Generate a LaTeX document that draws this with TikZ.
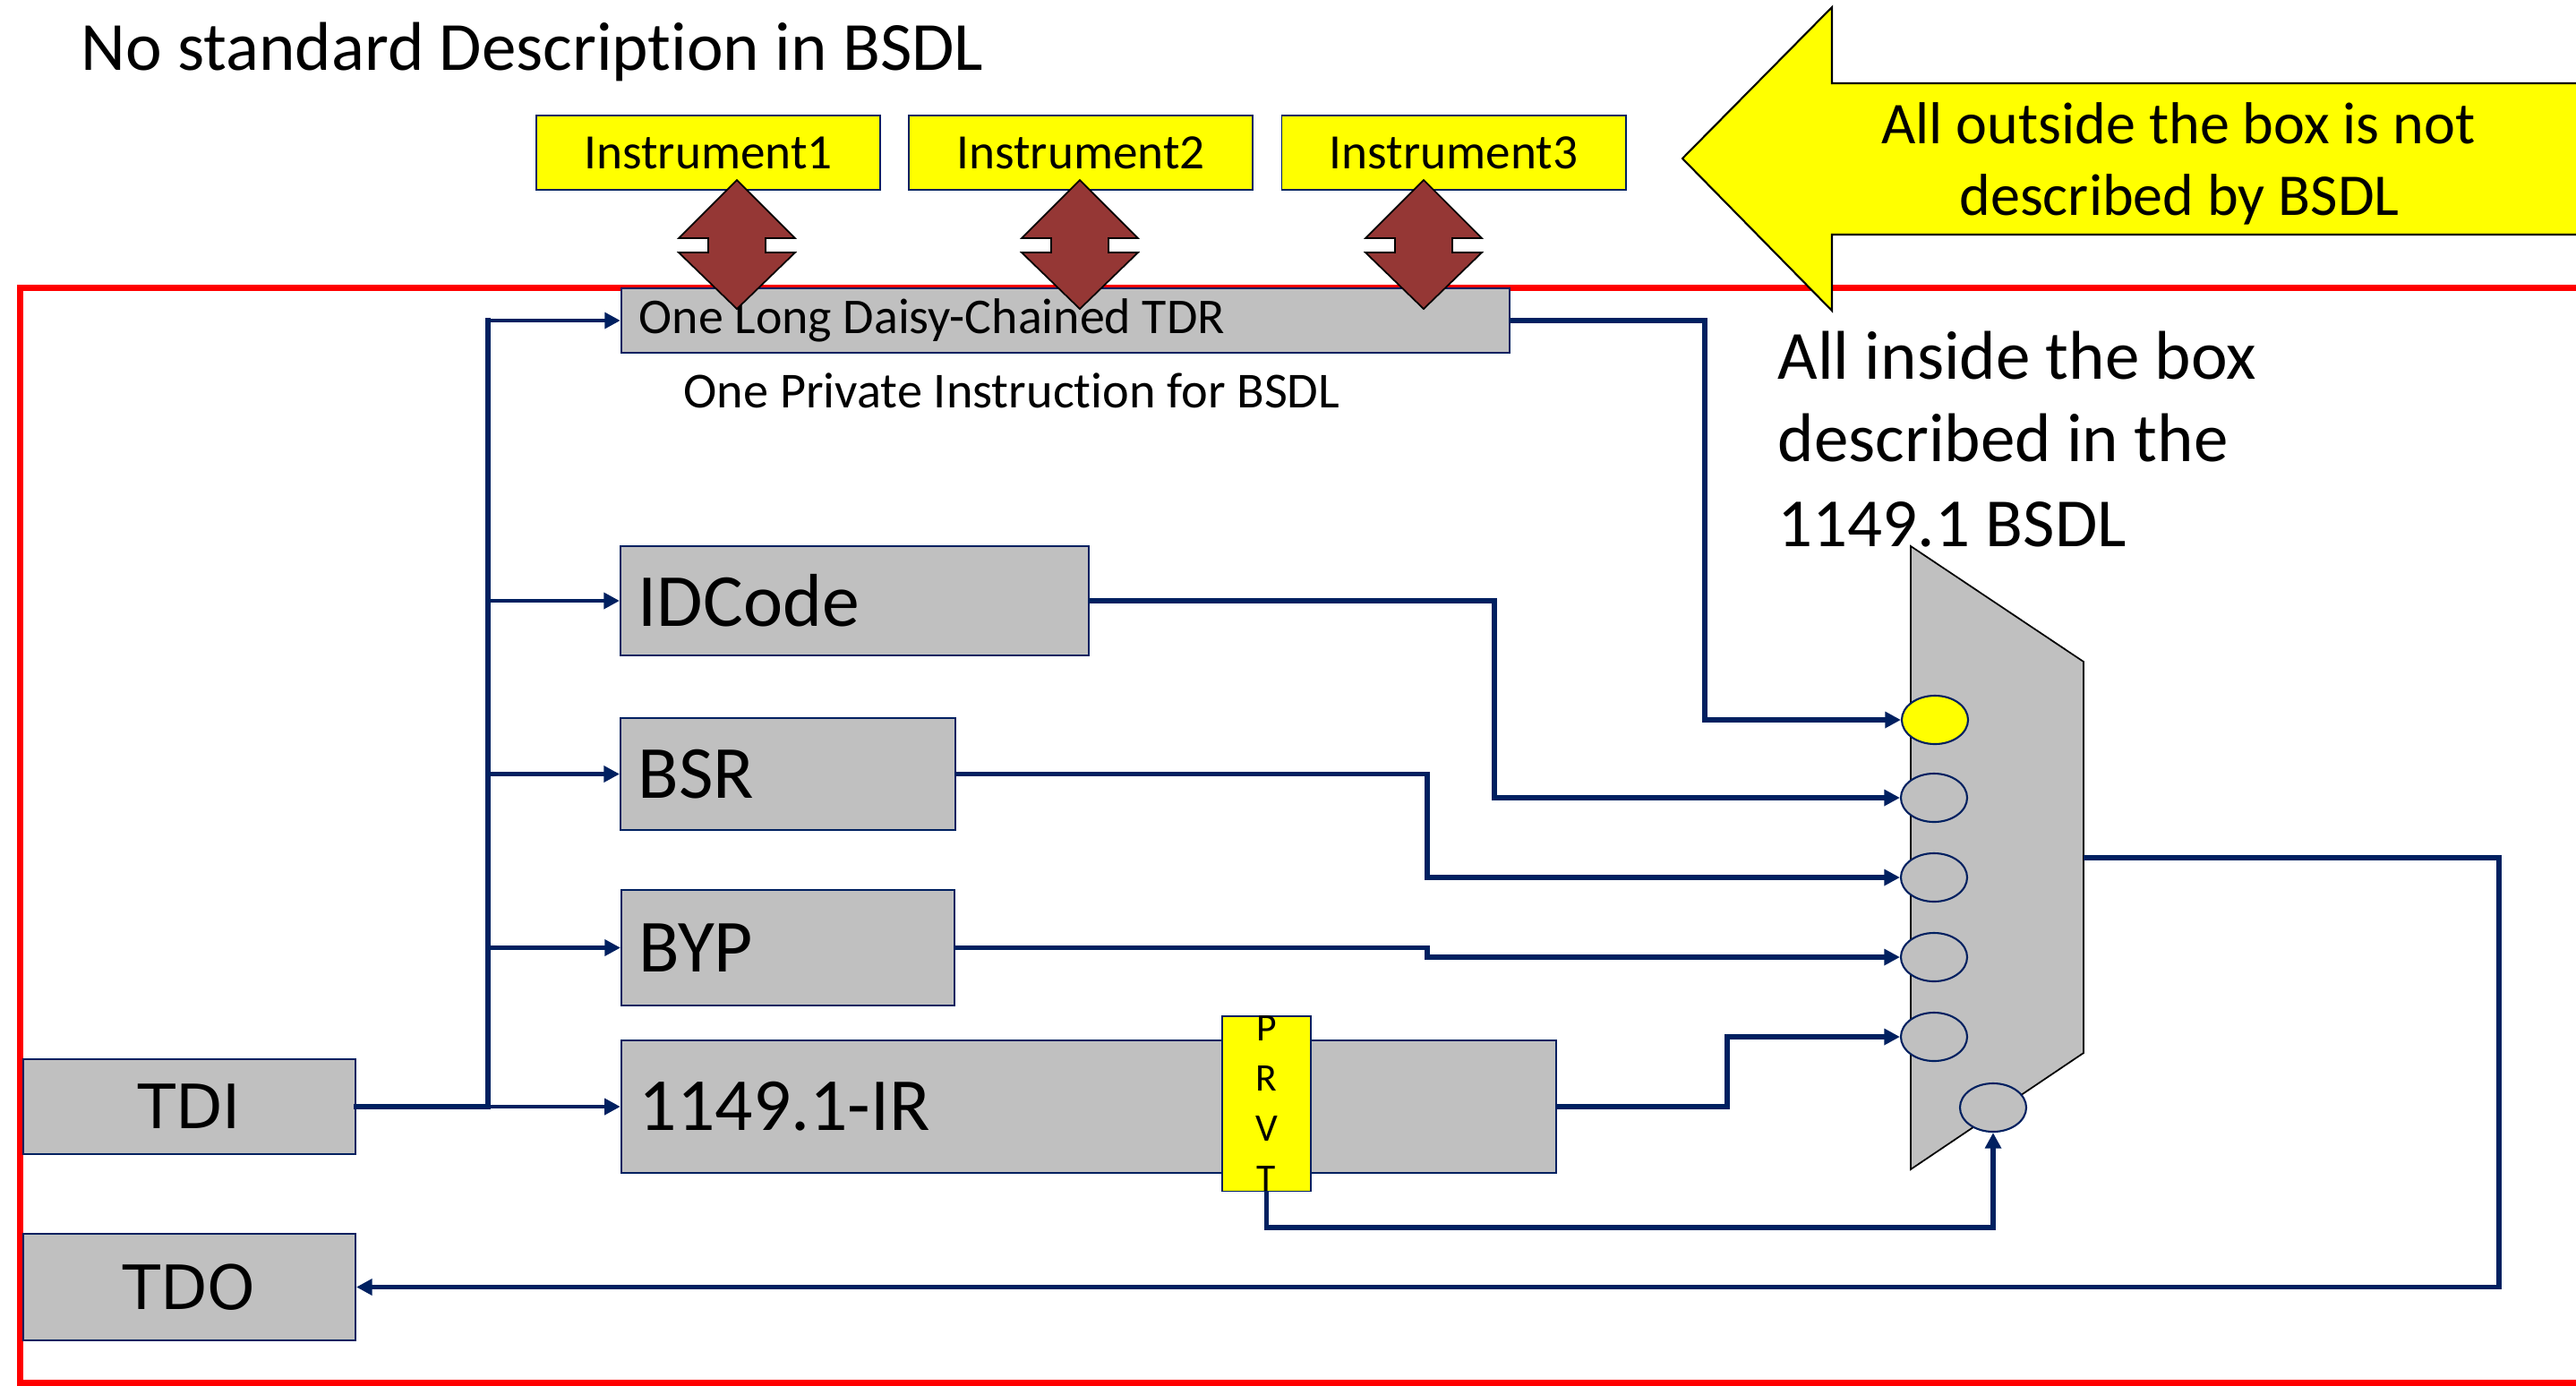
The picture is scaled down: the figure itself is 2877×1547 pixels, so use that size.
\documentclass[tikz,border=0pt]{standalone}
\usepackage{fontspec}
\setmainfont{Carlito}[Ligatures={NoCommon}]
\newfontfamily\verafont{DejaVu Sans}
\usetikzlibrary{arrows.meta,shapes.geometric}
\definecolor{navy}{HTML}{002060}
\definecolor{boxgray}{HTML}{C0C0C0}
\definecolor{brick}{HTML}{953735}
\definecolor{signyellow}{HTML}{FFFF00}
\definecolor{frame}{HTML}{FF0000}

\begin{document}
\begin{tikzpicture}[x=0.01cm, y=-0.01cm,
  wire/.style={draw=navy, line width=1.6pt},
  feed/.style={draw=navy, line width=1.35pt},
  busline/.style={draw=navy, line width=1.8pt, line cap=rect},
  tip/.style={-{Triangle[length=5pt,width=5pt]}},
  regbox/.style={draw=navy, line width=0.5pt, fill=boxgray, inner xsep=0.2cm,
    inner ysep=0pt, align=flush left, font=\fontsize{23.8}{28}\selectfont},
  pinbox/.style={draw=navy, line width=0.5pt, fill=boxgray, inner sep=0pt,
    font=\verafont\fontsize{19.4}{23}\selectfont},
  instr/.style={draw=navy, line width=0.5pt, fill=signyellow, inner sep=0pt,
    minimum width=3.84cm, minimum height=0.83cm, font=\fontsize{15.7}{19}\selectfont},
  port/.style={ellipse, draw=navy, line width=0.6pt, fill=boxgray,
    minimum width=0.74cm, minimum height=0.54cm, inner sep=0pt},
  plain/.style={inner sep=0pt},
]
\useasboundingbox (0,0) rectangle (2877,1547);
\clip (0,0) rectangle (2877,1547);

% red boundary of the BSDL-described part (open to the right)
\draw[frame, line width=2pt] (2950,321.5) -- (22.5,321.5) -- (22.5,1544) -- (2950,1544);

% big pointer arrow
\draw[fill=signyellow, draw=black, line width=0.6pt]
  (1879,177) -- (2046,8) -- (2046,93) -- (2950,93) -- (2950,262) -- (2046,262) -- (2046,347) -- cycle;
\node[plain, anchor=base, font=\fontsize{18.8}{22}\selectfont] (out1) at (2433,160) {All outside the box is not};
\node[plain, anchor=base, font=\fontsize{18.8}{22}\selectfont] (out2) at (2434,240) {described by BSDL};

% instruments
\node[instr] (ins1) at (791,170.5) {Instrument1};
\node[instr] (ins2) at (1207,170.5) {Instrument2};
\node[instr] (ins3) at (1623.5,170.5) {Instrument3};

% registers
\node[regbox, text width=9.52cm, minimum height=0.72cm, font=\fontsize{15.9}{19}\selectfont] (tdr) at (1190,358) {One Long Daisy-Chained TDR};
\node[regbox, text width=4.83cm, minimum height=1.22cm] (idcode) at (954.5,671) {IDCode};
\node[regbox, text width=3.34cm, minimum height=1.25cm] (bsr) at (880,864.5) {BSR};
\node[regbox, text width=3.32cm, minimum height=1.29cm] (byp) at (880,1058.5) {BYP};
\node[regbox, text width=10.04cm, minimum height=1.48cm] (ir) at (1216,1236) {1149.1-IR};
\node[draw=navy, line width=0.5pt, fill=signyellow, minimum width=0.99cm, minimum height=1.95cm,
  inner sep=0pt, align=center, font=\fontsize{12.4}{15.9}\selectfont] (prvt) at (1414.5,1232.5) {P\\R\\V\\T};

\node[plain, anchor=base west, font=\fontsize{16}{19}\selectfont] (priv) at (763,455) {One Private Instruction for BSDL};

% double arrows between instruments and the TDR
\foreach \cx in {823,1206,1590} {
  \draw[fill=brick, draw=black, line width=0.5pt]
    (\cx,201) -- (\cx+65,266) -- (\cx+32,266) -- (\cx+32,282) -- (\cx+65,282) -- (\cx,345)
    -- (\cx-65,282) -- (\cx-32,282) -- (\cx-32,266) -- (\cx-65,266) -- cycle;
}

% pins
\node[pinbox, minimum width=3.71cm, minimum height=1.06cm] (tdi) at (211.5,1236) {TDI};
\node[pinbox, minimum width=3.71cm, minimum height=1.19cm] (tdo) at (211.5,1437.5) {TDO};

% multiplexer
\draw[fill=boxgray, draw=black, line width=0.5pt] (2134,610) -- (2327,739) -- (2327,1176) -- (2134,1306) -- cycle;
\coordinate (muxout) at (2327,958);
\node[port, fill=signyellow] (e1) at (2161,804) {};
\node[port] (e2) at (2160,891) {};
\node[port] (e3) at (2160,980) {};
\node[port] (e4) at (2160,1069) {};
\node[port] (e5) at (2160,1158) {};
\node[port] (e6) at (2226,1237) {};

% routing columns and rows
\coordinate (bus) at (545,0);
\coordinate (k1) at (1904,0);
\coordinate (k2) at (1669,0);
\coordinate (k3) at (1594,0);
\coordinate (k5) at (1929,0);
\coordinate (k6) at (0,1371);
\coordinate (k7) at (2791,0);

% TDI fan-out
\draw[busline] (tdi.east) -- (bus |- tdi.east) -- (bus |- tdr.west);
\draw[feed, tip] (bus |- tdr.west) -- (tdr.west);
\draw[feed, tip] (bus |- idcode.west) -- (idcode.west);
\draw[feed, tip] (bus |- bsr.west) -- (bsr.west);
\draw[feed, tip] (bus |- byp.west) -- (byp.west);
\draw[feed, tip] (bus |- ir.west) -- (ir.west);

% register outputs into the multiplexer
\draw[wire, tip] (tdr.east) -- (tdr.east -| k1) -- (k1 |- e1.west) -- (e1.west);
\draw[wire, tip] (idcode.east) -- (idcode.east -| k2) -- (k2 |- e2.west) -- (e2.west);
\draw[wire, tip] (bsr.east) -- (bsr.east -| k3) -- (k3 |- e3.west) -- (e3.west);
\draw[wire, tip] (byp.east) -- (byp.east -| k3) -- (k3 |- e4.west) -- (e4.west);
\draw[wire, tip] (ir.east) -- (ir.east -| k5) -- (k5 |- e5.west) -- (e5.west);
\draw[wire, tip] (prvt.south) -- (prvt.south |- k6) -- (k6 -| e6.south) -- (e6.south);
\draw[wire, tip] (muxout) -- (muxout -| k7) -- (k7 |- tdo.east) -- (tdo.east);

% captions
\node[plain, anchor=base west, font=\fontsize{21.9}{26}\selectfont] (title) at (90,78) {No standard Description in BSDL};
\node[plain, anchor=base west, font=\fontsize{21.9}{26}\selectfont] (in1) at (1985,423) {All inside the box};
\node[plain, anchor=base west, font=\fontsize{21.9}{26}\selectfont] (in2) at (1985,515) {described in the};
\node[plain, anchor=base west, font=\fontsize{21.9}{26}\selectfont] (in3) at (1985,610) {1149.1 BSDL};
\end{tikzpicture}
\end{document}
